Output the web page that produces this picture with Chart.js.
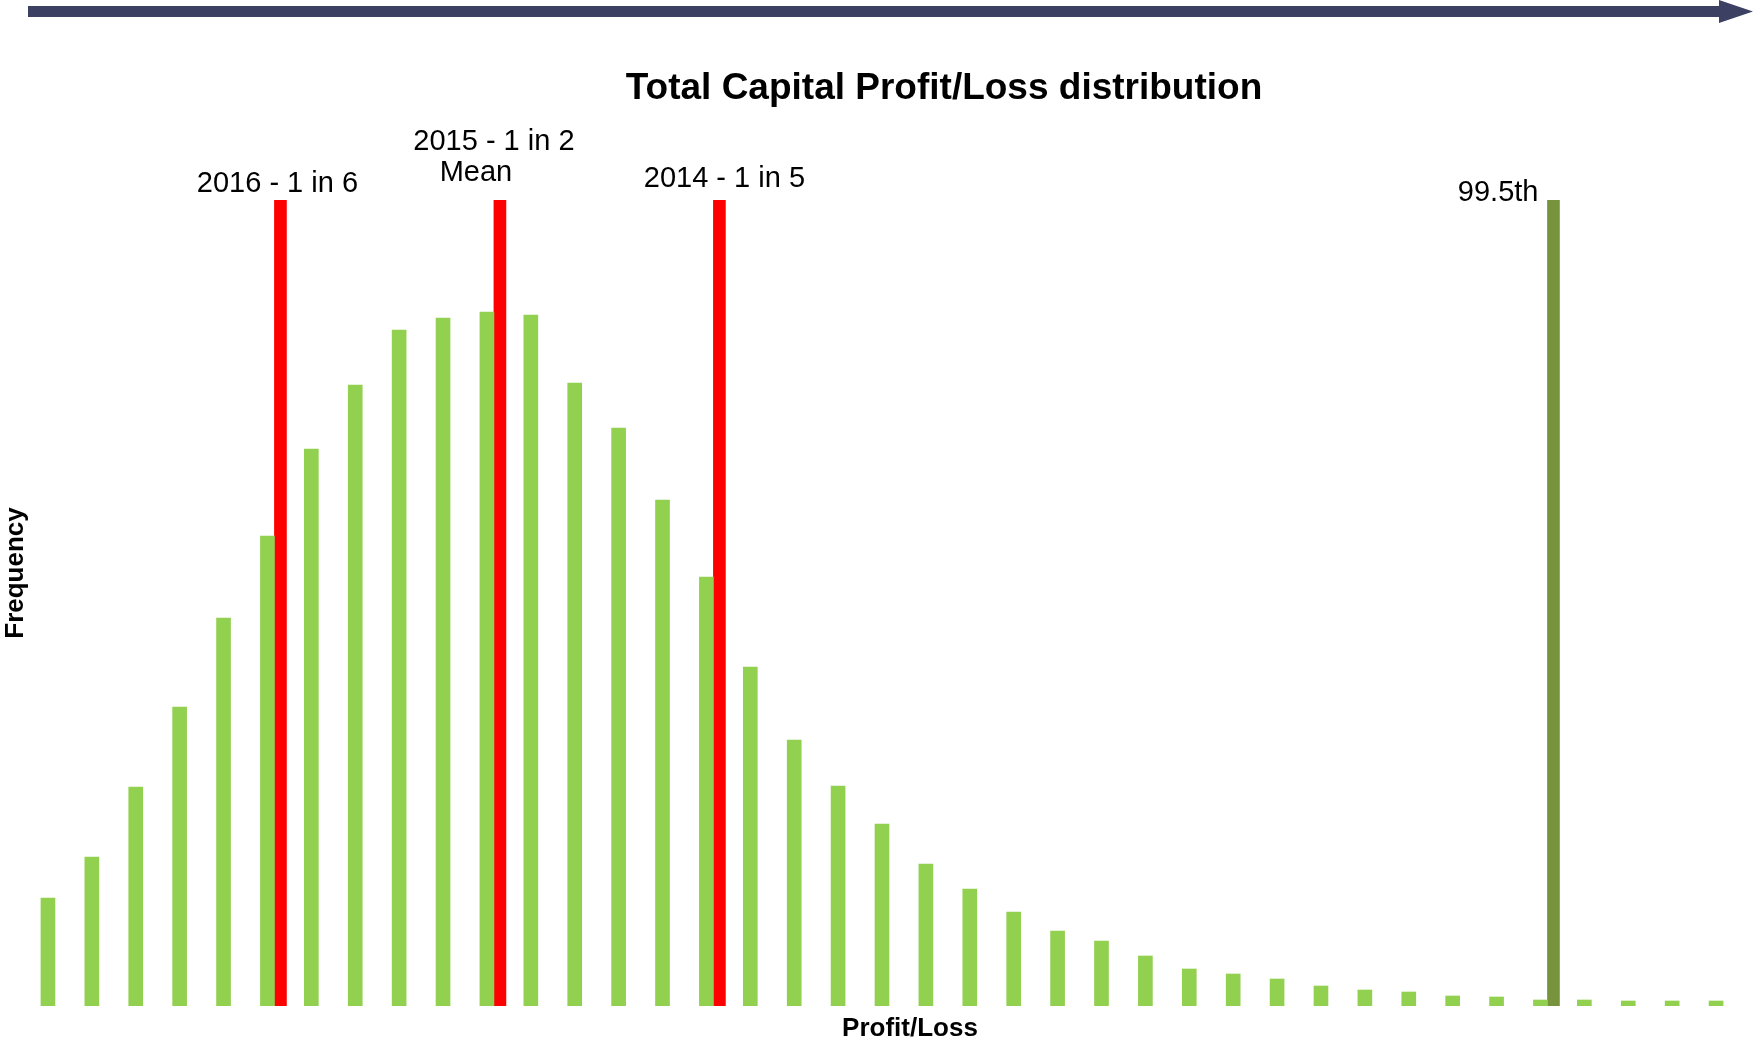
<!DOCTYPE html>
<html>
<head>
<meta charset="utf-8">
<title>Total Capital Profit/Loss distribution</title>
<script src="https://cdn.jsdelivr.net/npm/chart.js@4.4.1/dist/chart.umd.min.js"></script>
<style>
  html, body { margin: 0; padding: 0; background: #fff; }
  #wrap { width: 1754px; height: 1042px; }
</style>
</head>
<body>
<div id="wrap"><canvas id="distChart" width="1754" height="1042"></canvas></div>
<script>
// frequency per profit/loss bucket
const frequency = [108, 149, 219, 299, 388, 470, 557, 621, 676, 688, 694, 691, 623, 578, 506, 429, 339, 266, 220, 182,
  142, 117, 94, 75, 65, 50, 37, 32, 27, 20, 16, 14, 10, 9, 6, 6, 5, 5, 5];
const bins = frequency.map((_, i) => String(i + 1));

// marker lines sit next to these buckets (0-based)
const markerBins = [5, 10, 15, 34];
const markerLabels = [["2016 - 1 in 6"], ["2015 - 1 in 2", "Mean"], ["2014 - 1 in 5"], ["99.5th"]];
const markerColours = ["#FF0000", "#FF0000", "#FF0000", "#77933C"];
const markerHeight = 806;

const markers = bins.map((_, i) => markerBins.includes(i) ? markerHeight : null);
const markerFill = bins.map((_, i) => {
  const k = markerBins.indexOf(i);
  return k < 0 ? "rgba(0,0,0,0)" : markerColours[k];
});

// where each label line goes, relative to the top of its marker
const labelPlacement = [
  [{ dx: -3, dy: -8, align: "center" }],
  [{ dx: -6, dy: -50, align: "center" }, { dx: -24, dy: -19, align: "center" }],
  [{ dx: 5, dy: -13, align: "center" }],
  [{ dx: -9, dy: 1, align: "right" }]
];

const FONT = '"Liberation Sans", Arial, sans-serif';

const decorations = {
  id: "decorations",
  afterDraw(chart) {
    const ctx = chart.ctx;
    ctx.save();

    // arrow across the top
    ctx.fillStyle = "#3C4062";
    ctx.beginPath();
    ctx.moveTo(28, 6);
    ctx.lineTo(1719, 6);
    ctx.lineTo(1719, 0);
    ctx.lineTo(1753, 11.5);
    ctx.lineTo(1719, 23);
    ctx.lineTo(1719, 17);
    ctx.lineTo(28, 17);
    ctx.closePath();
    ctx.fill();

    ctx.fillStyle = "#000";
    ctx.textBaseline = "alphabetic";

    ctx.textAlign = "center";
    ctx.font = "bold 37px " + FONT;
    ctx.fillText("Total Capital Profit/Loss distribution", 944, 99);

    ctx.font = "bold 26px " + FONT;
    ctx.fillText("Profit/Loss", 910, 1036);

    // marker labels
    const meta = chart.getDatasetMeta(1);
    ctx.font = "29px " + FONT;
    markerBins.forEach((bin, k) => {
      const bar = meta.data[bin];
      markerLabels[k].forEach((line, j) => {
        const p = labelPlacement[k][j];
        ctx.textAlign = p.align;
        const x = p.align === "right" ? bar.x - bar.width / 2 + p.dx : bar.x + p.dx;
        ctx.fillText(line, x, bar.y + p.dy);
      });
    });

    ctx.translate(23, 573);
    ctx.rotate(-Math.PI / 2);
    ctx.textAlign = "center";
    ctx.font = "bold 26px " + FONT;
    ctx.fillText("Frequency", 0, 0);

    ctx.restore();
  }
};

new Chart(document.getElementById("distChart"), {
  type: "bar",
  data: {
    labels: bins,
    datasets: [{
      label: "Frequency",
      data: frequency,
      backgroundColor: "#92D050",
      barThickness: 14
    }, {
      label: "Markers",
      data: markers,
      backgroundColor: markerFill,
      barThickness: 12
    }]
  },
  options: {
    responsive: false,
    animation: false,
    layout: { padding: { left: 33, right: 9, top: 200, bottom: 36 } },
    scales: {
      x: { display: false },
      y: { display: false, min: 0, max: markerHeight }
    },
    plugins: {
      legend: { display: false },
      tooltip: { enabled: false },
      title: { display: false }
    }
  },
  plugins: [decorations]
});
</script>
</body>
</html>
